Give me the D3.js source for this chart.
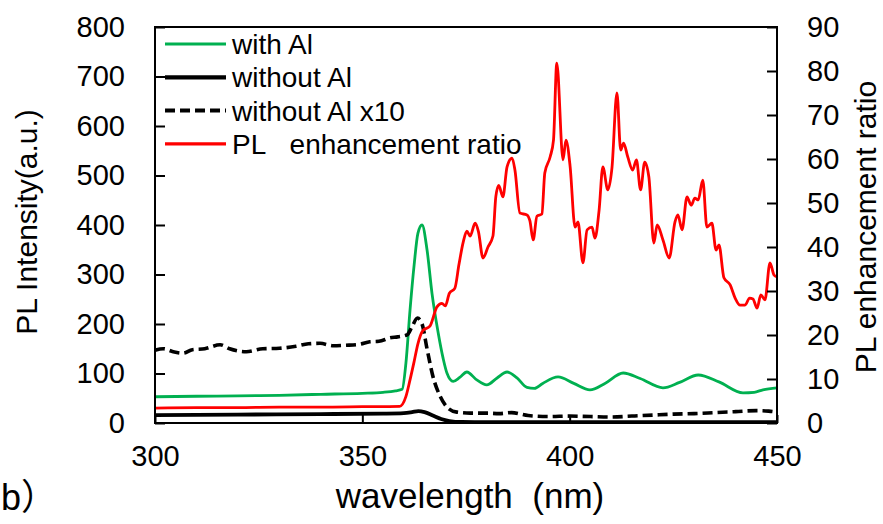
<!DOCTYPE html>
<html>
<head>
<meta charset="utf-8">
<script src="https://cdn.jsdelivr.net/npm/d3@7"></script>
<style>
  html, body { margin: 0; padding: 0; background: #fff; }
  svg { display: block; }
  text { font-family: "Liberation Sans", Arial, "Noto Sans CJK JP", sans-serif; fill: #000; }
</style>
</head>
<body>
<svg id="chart" width="883" height="524"></svg>
<script>
// PL spectra: [wavelength (nm), intensity (a.u.)]
const withAl = [
  [300,53],[310,54],[320,55],[330,56],[340,58],[350,60],[355,62],[358,65],[359.6,68],
  [360.5,120],[361.5,228],[362.5,320],[363.4,383],[364.4,400],[365.6,350],[366.8,262],
  [368.3,182],[369.5,130],[370.4,101],[371.9,84],[373.5,92],[375.2,103],[377.6,87],
  [380,77],[382.5,91],[384.9,103],[387.3,91],[389.7,72],[391.5,70],[393.5,80],[397.2,93],
  [401,80],[404.9,67],[408.5,80],[412.9,101],[417,90],[422.5,71],[426.5,82],[431,97],
  [436,83],[441.8,61],[444.5,62],[446.6,67],[450,71]
];
const withoutAl = [
  [300,16],[320,17],[340,18],[355,19],[360,20],[362,22],[363.5,24],[365,22],[367,15],
  [369,8],[371,4],[374,2],[380,1.5],[400,1.5],[420,1.5],[450,1.5]
];
const withoutAlx10 = [
  [300,147],[302,150],[304.4,144],[306.8,141],[309,148],[312,150],[315.7,158],[318,150],
  [322,144],[326,150],[330,151],[334,155],[337,160],[339.8,161],[343,156],[346,157],
  [349.4,159],[351.8,164],[354,165],[356.7,172],[358.5,174],[360.8,178],[362,195],
  [363.3,212],[364.4,200],[365.6,150],[367,95],[368.7,55],[370.7,30],[372.8,22],[376,20],
  [380,20],[383,19],[386,21],[390,15],[395,13],[400,14],[405,13],[410,12],[415,14],
  [420,16],[425,18],[430,19],[435,21],[440,23],[445,25],[448,24],[450,22]
];
// PL enhancement ratio (secondary axis): [wavelength (nm), ratio]
const enhancement = [
  [300,3.4],[310,3.5],[320,3.5],[330,3.6],[340,3.6],[350,3.7],[359,3.8],[360.5,6],
  [361.5,9.8],[362.5,14],[363.4,18],[364.6,21],[366.3,22],[368,26.4],[369.2,27.2],[370,26.6],
  [371,29.5],[372.3,30.6],[373.3,36],[374.3,41],[375.2,43.6],[376,42.5],[377.2,45.4],
  [378,43.5],[379.1,37.5],[380.3,40],[381.5,42.5],[382.2,51.5],[382.9,54],[383.9,51.4],
  [384.9,58.2],[386.1,60.2],[386.8,57.5],[388,47.7],[389.7,47.3],[390.4,46],[391.2,41.6],
  [392.1,47],[393.3,47.5],[394,56.8],[395.3,60.5],[396.1,64.3],[396.9,81.8],[398.4,59.8],
  [399.1,64.3],[400.1,58.4],[401.3,44.5],[402,45.7],[403.2,36.4],[404.2,43.9],[405.4,44.5],
  [406.1,42],[407.1,48.4],[408,58.2],[409.2,53],[410.2,58],[411.4,75],[412.3,62],[413,63.6],
  [414,60.5],[415.2,57.5],[416.1,59.8],[417.1,53],[418.1,59.3],[419.1,55.9],[420.3,40.9],
  [421.1,45],[422.5,41.6],[424,37.5],[425.4,45.7],[426.1,47.3],[427.1,43.9],[428.3,51.4],
  [429.3,49.5],[430.2,51.1],[431,50.7],[432.1,55.2],[433.1,44.5],[434.3,45.4],[435.3,39.3],
  [436,40.5],[437.2,33],[438.7,31.4],[439.9,28.4],[441.1,26.8],[442.3,26.8],[443.4,28.4],
  [444.2,28.2],[445.2,26.1],[446.1,29.1],[447.1,28],[448.3,36.4],[449.3,33.6],[450,33.2]
];

const xTicks = [300, 350, 400, 450];
const yLeftTicks = [0, 100, 200, 300, 400, 500, 600, 700, 800];
const yRightTicks = [0, 10, 20, 30, 40, 50, 60, 70, 80, 90];
const legendLabels = ["with Al", "without Al", "without Al x10", "PL\u00a0\u00a0 enhancement ratio"];

const svg = d3.select("#chart");
const plotLeft = 155, plotRight = 777, plotTop = 27, plotBottom = 423;

const x = d3.scaleLinear().domain([300, 450]).range([plotLeft, plotRight]);
const yL = d3.scaleLinear().domain([0, 800]).range([plotBottom, plotTop]);
const yR = d3.scaleLinear().domain([0, 90]).range([plotBottom, plotTop]);

const lineL = d3.line().x(d => x(d[0])).y(d => yL(d[1])).curve(d3.curveMonotoneX);
const lineR = d3.line().x(d => x(d[0])).y(d => yR(d[1])).curve(d3.curveMonotoneX);

const series = [
  { data: withAl, line: lineL, color: "#00b050", width: 2.8, dash: null },
  { data: withoutAl, line: lineL, color: "#000", width: 3.8, dash: null },
  { data: withoutAlx10, line: lineL, color: "#000", width: 3.6, dash: "10,5" },
  { data: enhancement, line: lineR, color: "#ff0000", width: 2.8, dash: null }
];

svg.append("defs").append("clipPath").attr("id", "plotClip")
  .append("rect").attr("x", plotLeft).attr("y", plotTop - 2)
  .attr("width", plotRight - plotLeft).attr("height", plotBottom - plotTop + 2);

const plot = svg.append("g").attr("clip-path", "url(#plotClip)");
series.forEach(s => {
  plot.append("path")
    .attr("d", s.line(s.data))
    .attr("fill", "none")
    .attr("stroke", s.color)
    .attr("stroke-width", s.width)
    .attr("stroke-dasharray", s.dash)
    .attr("stroke-linejoin", "round");
});

// Axes (ticks point into the plot)
const fontTick = "29px";
const gL = svg.append("g").attr("transform", `translate(${plotLeft},0)`)
  .call(d3.axisLeft(yL).tickValues(yLeftTicks).tickSize(-10).tickPadding(30));
const gR = svg.append("g").attr("transform", `translate(${plotRight},0)`)
  .call(d3.axisRight(yR).tickValues(yRightTicks).tickSize(-10).tickPadding(30));
const gB = svg.append("g").attr("transform", `translate(0,${plotBottom})`)
  .call(d3.axisBottom(x).tickValues(xTicks).tickSize(-8).tickPadding(22));
[gL, gR, gB].forEach(g => {
  g.select(".domain").remove();
  g.selectAll("line").attr("stroke", "#000").attr("stroke-width", 2);
  g.selectAll("text").attr("font-size", fontTick).attr("font-family", null).attr("fill", "#000");
});

// Plot frame
svg.append("rect")
  .attr("x", plotLeft).attr("y", plotTop)
  .attr("width", plotRight - plotLeft).attr("height", plotBottom - plotTop)
  .attr("fill", "none").attr("stroke", "#000").attr("stroke-width", 2);

// Legend
const legend = svg.append("g");
series.forEach((s, i) => {
  const ly = 44 + i * 33.3;
  legend.append("line")
    .attr("x1", 165).attr("x2", 226).attr("y1", ly).attr("y2", ly)
    .attr("stroke", s.color).attr("stroke-width", s.width + 0.4)
    .attr("stroke-dasharray", s.dash);
  legend.append("text")
    .attr("x", 232).attr("y", ly + 10)
    .attr("font-size", "28px")
    .text(legendLabels[i]);
});

// Axis titles
svg.append("text")
  .attr("transform", "translate(37,222) rotate(-90)")
  .attr("text-anchor", "middle").attr("font-size", "30px")
  .text("PL Intensity(a.u.)");
svg.append("text")
  .attr("transform", "translate(876,227) rotate(-90)")
  .attr("text-anchor", "middle").attr("font-size", "30px")
  .text("PL enhancement ratio");
svg.append("text")
  .attr("x", 470).attr("y", 508)
  .attr("text-anchor", "middle").attr("font-size", "35px")
  .text("wavelength\u00a0 (nm)");
svg.append("text")
  .attr("x", 1).attr("y", 510)
  .attr("font-size", "36px")
  .text("b）");
</script>
</body>
</html>
